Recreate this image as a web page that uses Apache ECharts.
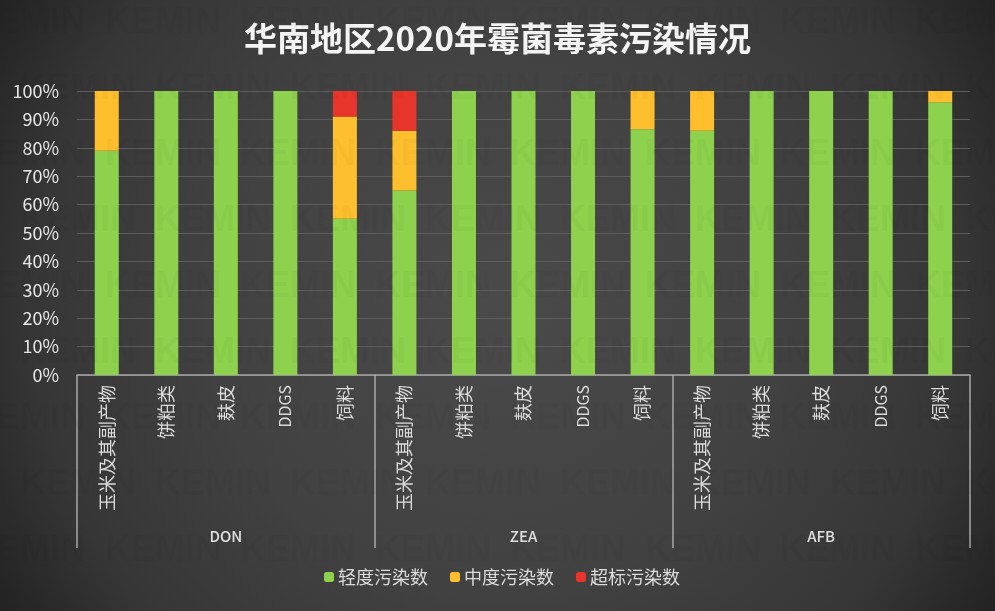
<!DOCTYPE html>
<html>
<head>
<meta charset="utf-8">
<style>html,body{margin:0;padding:0;background:#2a2a2a}#main{width:995px;height:611px}</style>
<script src="https://cdn.jsdelivr.net/npm/echarts@6/dist/echarts.min.js"></script>
</head>
<body>
<div id="main"></div>
<script>
const FONT = '"Noto Sans CJK SC", "Noto Sans", sans-serif';
const titleText = '华南地区2020年霉菌毒素污染情况';
const toxins = ['DON', 'ZEA', 'AFB'];
const feedTypes = ['玉米及其副产物', '饼粕类', '麸皮', 'DDGS', '饲料'];
const categories = toxins.flatMap(() => feedTypes);
const yTicks = [0, 10, 20, 30, 40, 50, 60, 70, 80, 90, 100];
const lightValues = [79, 100, 100, 100, 55, 65, 100, 100, 100, 86.5, 86, 100, 100, 100, 96];
const mediumValues = [21, 0, 0, 0, 36, 21, 0, 0, 0, 13.5, 14, 0, 0, 0, 4];
const overValues = [0, 0, 0, 0, 9, 14, 0, 0, 0, 0, 0, 0, 0, 0, 0];

const chart = echarts.init(document.getElementById('main'));

// faint KEMIN watermark, tiled across the picture
const watermark = [];
for (let row = 0; row < 9; row++) {
    for (let col = 0; col < 8; col++) {
        watermark.push({
            type: 'text',
            silent: true,
            z: 50,
            x: col * 135 - 30 + (row % 2) * 50,
            y: row * 66 + 5,
            style: {
                text: 'KEMIN',
                fill: 'rgba(0,0,0,0.025)',
                font: 'bold 36px "Liberation Sans", sans-serif'
            }
        });
    }
}

function barSeries(name, values, color) {
    return {
        name: name,
        type: 'bar',
        stack: 'total',
        barWidth: 24,
        itemStyle: { color: color },
        data: values
    };
}

const option = {
    animation: false,
    backgroundColor: new echarts.graphic.RadialGradient(0.5, 0.5, 0.95, [
        { offset: 0, color: '#4a4a4a' },
        { offset: 0.5, color: '#414141' },
        { offset: 0.8, color: '#363636' },
        { offset: 1, color: '#232323' }
    ]),
    textStyle: { fontFamily: FONT },
    title: {
        text: titleText,
        left: 'center',
        top: 17,
        textStyle: {
            color: '#f4f4f4',
            fontSize: 33,
            fontWeight: 'bold',
            fontFamily: FONT
        }
    },
    legend: {
        bottom: 20,
        left: 319,
        itemWidth: 10,
        itemHeight: 10,
        itemGap: 22,
        textStyle: { color: '#dcdcdc', fontSize: 18, padding: [0, 0, 0, -1], fontFamily: FONT }
    },
    grid: { left: 77, right: 25, top: 91, bottom: 236 },
    xAxis: [{
        type: 'category',
        data: categories,
        axisLine: { lineStyle: { color: '#a8a8a8', width: 1.5 } },
        axisTick: { show: false },
        axisLabel: {
            interval: 0,
            rotate: 90,
            margin: 10,
            color: '#dcdcdc',
            fontSize: 18,
            fontFamily: FONT,
            // the latin label is set smaller than the chinese ones
            formatter: function (value) {
                return value === 'DDGS' ? '{latin|' + value + '}' : value;
            },
            rich: {
                latin: { color: '#dcdcdc', fontSize: 16, fontFamily: FONT }
            }
        }
    }, {
        type: 'category',
        position: 'bottom',
        data: toxins,
        axisLine: { show: false },
        axisTick: { show: true, length: 173, lineStyle: { color: '#a8a8a8', width: 1.5 } },
        axisLabel: { interval: 0, margin: 154, color: '#e0e0e0', fontSize: 15, fontWeight: 500, fontFamily: FONT }
    }],
    yAxis: {
        type: 'value',
        min: yTicks[0],
        max: yTicks[yTicks.length - 1],
        interval: yTicks[1] - yTicks[0],
        axisLine: { show: false },
        axisTick: { show: false },
        axisLabel: {
            formatter: '{value}%',
            margin: 18,
            color: '#e8e8e8',
            fontSize: 18,
            fontFamily: FONT
        },
        splitLine: { lineStyle: { color: '#5d5d5d', width: 1 } }
    },
    graphic: watermark,
    series: [
        barSeries('轻度污染数', lightValues, '#8dd14c'),
        barSeries('中度污染数', mediumValues, '#fdbf2d'),
        barSeries('超标污染数', overValues, '#e7352b')
    ]
};
chart.setOption(option);
</script>
</body>
</html>
